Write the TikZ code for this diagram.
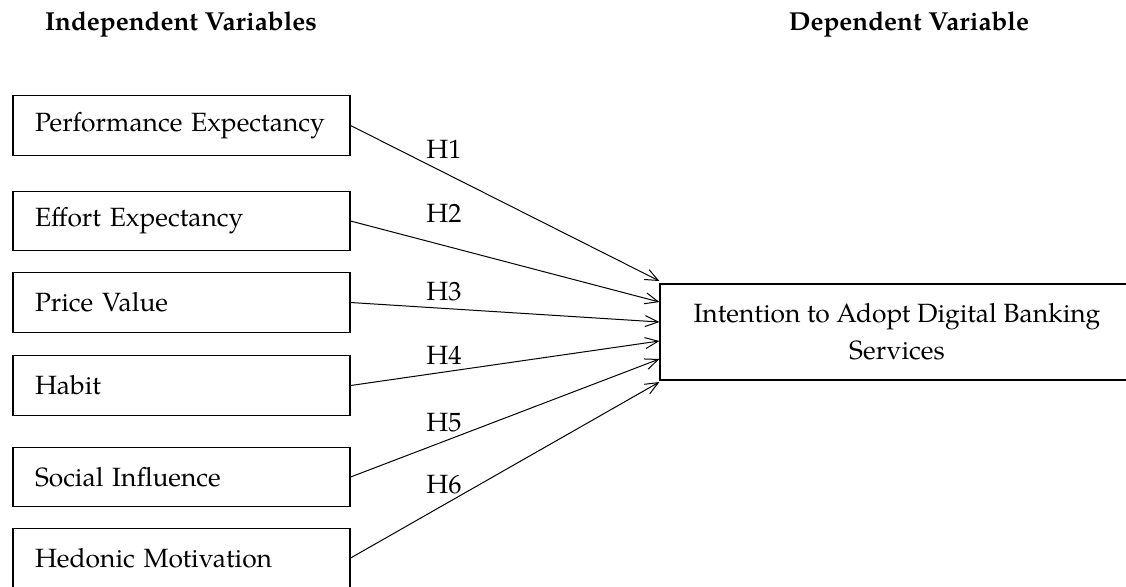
\documentclass[tikz,border=0pt]{standalone}
\usepackage{fontspec}
\setmainfont{TeX Gyre Pagella}
\usetikzlibrary{arrows.meta}

\begin{document}
\begin{tikzpicture}[x=0.5pt,y=-0.5pt,
	ivbox/.style={draw,line width=0.6pt,minimum width=168.5pt,minimum height=29.75pt,inner xsep=11pt,text width=146.5pt,align=left},
	dvbox/.style={draw,line width=0.6pt,minimum width=237pt,minimum height=48pt,align=center},
	hyp/.style={-{Straight Barb[length=6.5pt,width=5.5pt]},line width=0.5pt}]
	\useasboundingbox (0,0) rectangle (1126,586);
	\clip (0,0) rectangle (1126,586);
	\begin{scope}[every node/.style={font=\fontsize{13.2}{18.5}\selectfont}]
		\path (181,24) node [font=\fontsize{13}{18.5}\selectfont\bfseries] (hiv) {Independent Variables};
		\path (909,24) node [font=\fontsize{13}{18.5}\selectfont\bfseries] (hdv) {Dependent Variable};
		
		\path (181.5,125.5) node [ivbox] (pe) {Performance Expectancy};
		\path (181.5,221  ) node [ivbox] (ee) {Effort Expectancy};
		\path (181.5,302.5) node [ivbox] (pv) {Price Value};
		\path (181.5,385.5) node [ivbox] (hb) {Habit};
		\path (181.5,477  ) node [ivbox] (si) {Social Influence};
		\path (181.5,558  ) node [ivbox] (hm) {Hedonic Motivation};
		\path (897,332) node [dvbox] (ia) {Intention to Adopt Digital Banking\\Services};
		
		\draw [hyp] (pe.east) -- ([yshift=25.5pt]ia.west);
		\draw [hyp] (ee.east) -- ([yshift=15pt]ia.west);
		\draw [hyp] (pv.east) -- ([yshift=5pt]ia.west);
		\draw [hyp] (hb.east) -- ([yshift=-4.5pt]ia.west);
		\draw [hyp] (si.east) -- ([yshift=-13.5pt]ia.west);
		\draw [hyp] (hm.east) -- ([yshift=-25pt]ia.west);
		
		\tikzstyle{every node}=[font=\fontsize{13.2}{18.5}\selectfont,anchor=west,inner sep=0pt];
		\path (426,149) node (h1) {H1};
		\path (426,213) node (h2) {H2};
		\path (426,292) node (h3) {H3};
		\path (426,355) node (h4) {H4};
		\path (426,423) node (h5) {H5};
		\path (426,485) node (h6) {H6};
	\end{scope}
\end{tikzpicture}
\end{document}
